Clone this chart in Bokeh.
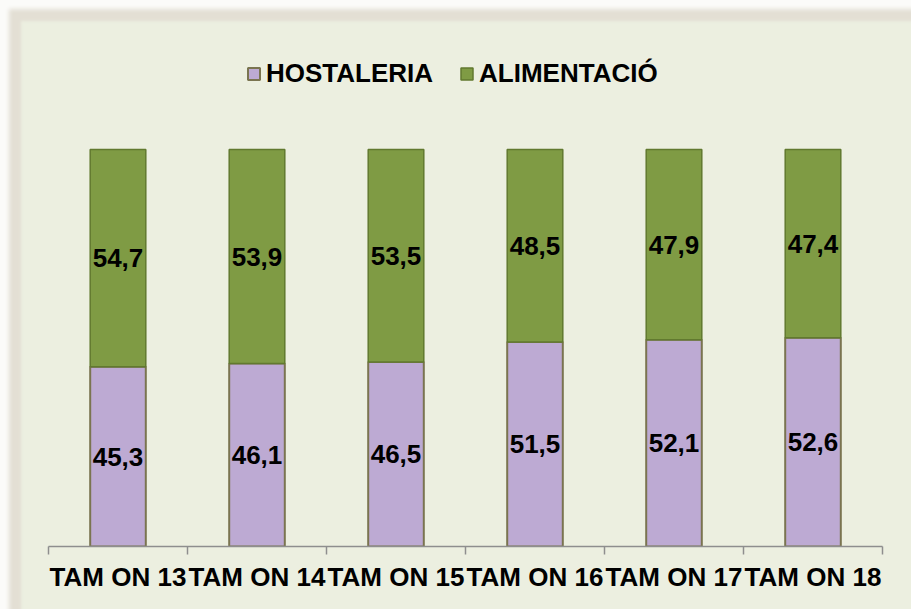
from bokeh.plotting import figure
from bokeh.models import Range1d, FixedTicker, ColumnDataSource, Legend, LegendItem
from bokeh.core.properties import value
from bokeh.embed import file_html
from bokeh.resources import INLINE

categories = ["TAM ON 13", "TAM ON 14", "TAM ON 15", "TAM ON 16", "TAM ON 17", "TAM ON 18"]
hostaleria = [45.3, 46.1, 46.5, 51.5, 52.1, 52.6]
alimentacio = [54.7, 53.9, 53.5, 48.5, 47.9, 47.4]

PURPLE = "#BDAAD3"
GREEN = "#7F9B44"
BG = "#ECEFE0"
FONT = "Liberation Sans"
FS = "26px"

xs = [i + 0.5 for i in range(len(categories))]
tops = [h + a for h, a in zip(hostaleria, alimentacio)]
src = ColumnDataSource(dict(
    x=xs, h=hostaleria, a=alimentacio, top=tops,
    hmid=[h / 2 for h in hostaleria],
    amid=[h + a / 2 for h, a in zip(hostaleria, alimentacio)],
    hlab=[f"{v:.1f}".replace(".", ",") for v in hostaleria],
    alab=[f"{v:.1f}".replace(".", ",") for v in alimentacio],
))

p = figure(width=911, height=609, output_backend="svg", toolbar_location=None,
           x_range=Range1d(0, len(categories)), y_range=Range1d(0, 130),
           min_border_left=48, min_border_right=29, min_border_top=30, min_border_bottom=63)
p.styles = {"background-color": BG,
            "box-shadow": "inset 9px 9px 4px 0 #FBFBF9, inset 21px 21px 3px 0 #E3DFD4"}
p.border_fill_color = None
p.background_fill_color = BG
p.outline_line_color = None
p.grid.visible = False
p.yaxis.visible = False

r_h = p.vbar(x="x", bottom=0, top="h", width=0.4, source=src,
             fill_color=PURPLE, line_color="#7A7450", line_width=2)
r_a = p.vbar(x="x", bottom="h", top="top", width=0.4, source=src,
             fill_color=GREEN, line_color="#61792F", line_width=1.5)

p.text(x="x", y="hmid", text="hlab", source=src, text_align="center", text_baseline="middle",
       text_font=value(FONT), text_font_size=FS, text_font_style="bold", text_color="black")
p.text(x="x", y="amid", text="alab", source=src, text_align="center", text_baseline="middle",
       text_font=value(FONT), text_font_size=FS, text_font_style="bold", text_color="black")

ax = p.xaxis[0]
ax.ticker = FixedTicker(ticks=xs, minor_ticks=list(range(len(categories) + 1)))
ax.major_label_overrides = {x: c for x, c in zip(xs, categories)}
ax.major_tick_line_color = None
ax.major_tick_out = 8
ax.major_tick_in = 0
ax.minor_tick_out = 8
ax.minor_tick_in = 0
ax.minor_tick_line_color = "#8E8E8E"
ax.minor_tick_line_width = 1.5
ax.axis_line_color = "#8E8E8E"
ax.axis_line_width = 1.5
ax.major_label_standoff = 7
ax.major_label_text_font = FONT
ax.major_label_text_font_size = FS
ax.major_label_text_font_style = "bold"
ax.major_label_text_color = "black"

legend = Legend(items=[LegendItem(label="HOSTALERIA", renderers=[r_h]),
                       LegendItem(label="ALIMENTACIÓ", renderers=[r_a])],
                orientation="horizontal", location=(198, 457))
legend.padding = 0
legend.margin = 0
legend.spacing = 26
legend.glyph_width = 15
legend.glyph_height = 15
legend.label_standoff = 5
legend.border_line_color = None
legend.background_fill_color = None
legend.label_text_font = FONT
legend.label_text_font_size = FS
legend.label_text_font_style = "bold"
legend.label_text_color = "black"
p.add_layout(legend, "center")

open("out.html", "w").write(file_html(p, INLINE))
